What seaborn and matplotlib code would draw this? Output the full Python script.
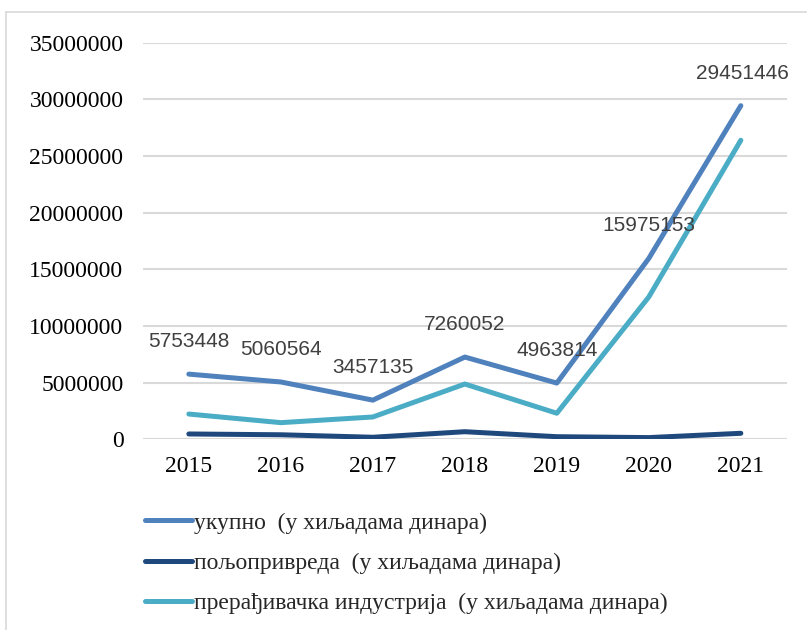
import matplotlib
matplotlib.use("Agg")
import matplotlib.pyplot as plt
from matplotlib.lines import Line2D
import pandas as pd
import seaborn as sns

years = ["2015", "2016", "2017", "2018", "2019", "2020", "2021"]
ukupno = [5753448, 5060564, 3457135, 7260052, 4963814, 15975153, 29451446]
poljoprivreda = [470000, 400000, 180000, 670000, 230000, 150000, 530000]
preradjivacka = [2230000, 1470000, 1970000, 4880000, 2300000, 12570000, 26400000]

series_names = [
    "укупно  (у хиљадама динара)",
    "пољопривреда  (у хиљадама динара)",
    "прерађивачка индустрија  (у хиљадама динара)",
]
colors = ["#4F81BD", "#1F497D", "#4BACC6"]
yticks = [0, 5000000, 10000000, 15000000, 20000000, 25000000, 30000000, 35000000]

df = pd.DataFrame({
    "year": years * 3,
    "value": ukupno + poljoprivreda + preradjivacka,
    "series": [series_names[0]] * 7 + [series_names[1]] * 7 + [series_names[2]] * 7,
})

sns.set_style("white")
serif = ["Liberation Serif", "DejaVu Serif"]
narrow = ["Liberation Sans Narrow", "Liberation Sans", "DejaVu Sans"]

fig = plt.figure(figsize=(8.07, 6.3), dpi=100)
ax = fig.add_axes([0.177, 0.3027, 0.798, 0.6293])

sns.lineplot(data=df, x="year", y="value", hue="series", palette=colors,
             hue_order=series_names, linewidth=3.6, ax=ax, legend=False,
             solid_capstyle="round", solid_joinstyle="round")

ax.set_xlim(-0.5, 6.5)
ax.set_ylim(0, 35000000)
ax.set_yticks(yticks)
ax.set_yticklabels([str(v) for v in yticks], family=serif, fontsize=17)
ax.set_xticks(range(len(years)))
ax.set_xticklabels(years, family=serif, fontsize=17)
ax.tick_params(axis="y", length=0, pad=14, colors="black")
ax.tick_params(axis="x", length=0, pad=12, colors="black")
ax.set_xlabel("")
ax.set_ylabel("")
ax.grid(axis="y", color="#D9D9D9", linewidth=1.5)
ax.set_axisbelow(True)
for s in ax.spines.values():
    s.set_visible(False)

# data labels above the "укупно" points
for i, v in enumerate(ukupno):
    ax.annotate(str(v), (i, v), xytext=(1 if i == 6 else 0, 23.5), textcoords="offset points",
                ha="center", va="center", fontsize=15, family=narrow, color="#404040")

handles = [Line2D([0], [0], color=c, lw=3.6, solid_capstyle="round") for c in colors]
fig.legend(handles, series_names, loc="upper left", bbox_to_anchor=(0.153, 0.221),
           frameon=False, prop={"family": serif, "size": 17},
           handlelength=2.0, handletextpad=0.1, labelspacing=0.8)

# chart area border (light gray, runs off the right and bottom edges)
fig.add_artist(Line2D([6 / 807, 6 / 807], [0, 1 - 12 / 630], color="#D9D9D9", lw=1.2,
                      transform=fig.transFigure))
fig.add_artist(Line2D([6 / 807, 1], [1 - 12 / 630, 1 - 12 / 630], color="#D9D9D9", lw=1.2,
                      transform=fig.transFigure))

fig.savefig("out.png", dpi=100)
